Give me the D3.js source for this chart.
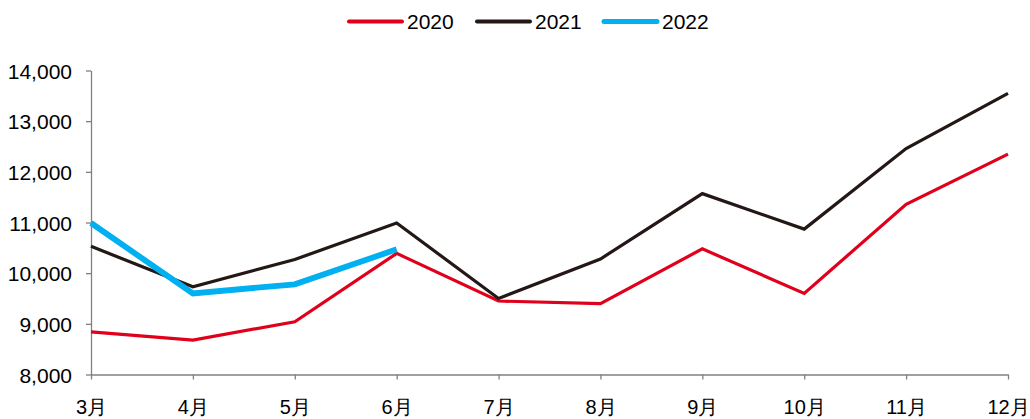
<!DOCTYPE html>
<html><head><meta charset="utf-8">
<script src="https://cdn.jsdelivr.net/npm/d3@7"></script>
<style>body{margin:0;background:#fff}svg{display:block}text{font-family:"Liberation Sans",Arial,sans-serif;fill:#000}</style>
</head><body><svg id="c" width="1030" height="419"></svg>
<script>
const categories = ["3月","4月","5月","6月","7月","8月","9月","10月","11月","12月"];
const s2020 = [8840,8680,9040,10390,9450,9400,10480,9600,11360,12350];
const s2021 = [10530,9730,10270,10990,9500,10280,11570,10870,12460,13550];
const s2022 = [10990,9600,9780,10470];
const yTicks = [8000,9000,10000,11000,12000,13000,14000];
const seriesNames = ["2020","2021","2022"];
const colors = ["#E0001B","#231815","#00B0F0"];
const widths = [3.2,3.2,5.8];

const svg = d3.select("#c");
const x = d3.scalePoint().domain(categories).range([91,1008]);
const y = d3.scaleLinear().domain([8000,14000]).range([374.5,70.5]);

const xAxis = d3.axisBottom(x).tickSize(5).tickSizeOuter(0);
const gx = svg.append("g").attr("transform","translate(0,374.5)").call(xAxis);
gx.attr("font-size",null).attr("font-family",null);
gx.select(".domain").attr("stroke","#808080").attr("stroke-width",1.3);
gx.selectAll(".tick line").attr("stroke","#808080").attr("stroke-width",1.3);
gx.selectAll(".tick text").attr("font-size",20).attr("dy",null).attr("y",39).attr("fill","#000");

const yAxis = d3.axisLeft(y).tickValues(yTicks).tickFormat(d3.format(",")).tickSize(5).tickSizeOuter(0);
const gy = svg.append("g").attr("transform","translate(91,0)").call(yAxis);
gy.attr("font-size",null).attr("font-family",null);
gy.select(".domain").attr("stroke","#808080").attr("stroke-width",1.3);
gy.selectAll(".tick line").attr("stroke","#808080").attr("stroke-width",1.3);
gy.selectAll(".tick text").attr("font-size",21).attr("x",-19).attr("dy","0.36em").attr("fill","#000");

const line = d3.line().x((d,i)=>x(categories[i])).y(d=>y(d));
[s2020,s2021,s2022].forEach((s,k)=>{
  svg.append("path").datum(s).attr("d",line).attr("fill","none")
    .attr("stroke",colors[k]).attr("stroke-width",widths[k]).attr("stroke-linejoin","miter");
});

// legend
const lx = [349,477,604];
seriesNames.forEach((n,k)=>{
  const g = svg.append("g");
  g.append("line").attr("x1",lx[k]).attr("x2",lx[k]+53).attr("y1",21.5).attr("y2",21.5)
    .attr("stroke",colors[k]).attr("stroke-width",k==2?5:4).attr("stroke-linecap","round");
  g.append("text").attr("x",lx[k]+58).attr("y",29).attr("font-size",21).text(n);
});
</script></body></html>
